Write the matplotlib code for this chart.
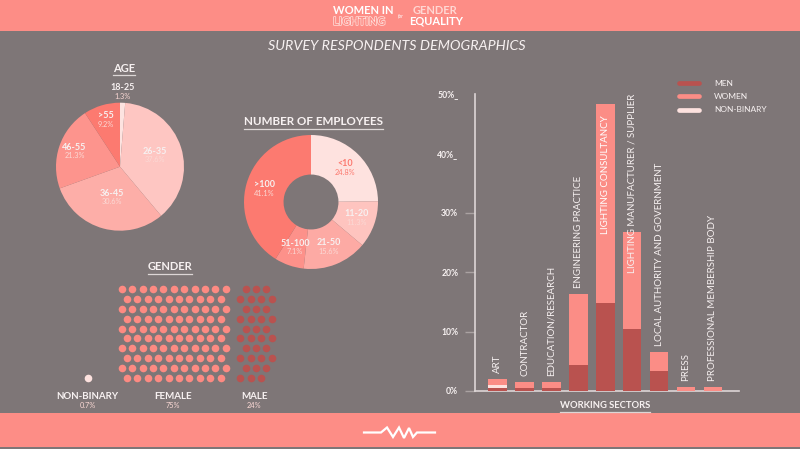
import matplotlib
matplotlib.use("Agg")
import matplotlib.pyplot as plt
from matplotlib.lines import Line2D
from matplotlib.patches import Rectangle
import matplotlib.patheffects as pe
import numpy as np

# ---- data ----
age_groups = ['18-25', '26-35', '36-45', '46-55', '>55']
age_share = [1.3, 37.6, 30.6, 21.3, 9.2]

emp_groups = ['<10', '11-20', '21-50', '51-100', '>100']
emp_share = [24.8, 11.3, 15.6, 7.1, 41.1]

gender_groups = ['NON-BINARY', 'FEMALE', 'MALE']
gender_share = [0.7, 75, 24]
gender_dots = [1, 105, 34]

sectors = ['ART', 'CONTRACTOR', 'EDUCATION/RESEARCH', 'ENGINEERING PRACTICE',
           'LIGHTING CONSULTANCY', 'LIGHTING MANUFACTURER / SUPPLIER',
           'LOCAL AUTHORITY AND GOVERNMENT', 'PRESS', 'PROFESSIONAL MEMBERSHIP BODY']
men = [0.5, 0.5, 0.5, 4.4, 14.8, 10.4, 3.3, 0.0, 0.0]
nonbinary = [0.5, 0.0, 0.0, 0.0, 0.0, 0.0, 0.0, 0.0, 0.0]
women = [1.1, 1.0, 1.0, 11.9, 33.5, 16.4, 3.3, 0.7, 0.7]
y_ticks = [0, 10, 20, 30, 40, 50]
y_ticklabels = ['0%', '10%', '20%', '30%', '40%_', '50%_']

# ---- style ----
BG = '#7e7677'
PINK = '#fd8d86'
MEN_C = '#b9524f'
WOMEN_C = '#fb8d86'
NB_C = '#fde2df'
TXT = '#f7f1f1'
PCT_TXT = '#fbd9d5'
age_colors = ['#fde3e0', '#fec6c2', '#fdaea8', '#fd948d', '#fc7a70']
emp_colors = ['#fee2df', '#fec4bf', '#fdaaa4', '#fd918a', '#fc7a70']
age_label_r = [1.17, 0.57, 0.5, 0.75, 0.76]
# label placement for sector names: above bar, inside top of bar, or hung from the axis top
label_mode = ['above', 'above', 'above', 'above', 'inside', 'top', 'above', 'above', 'above']

plt.rcParams['font.family'] = ['Lato', 'DejaVu Sans']

W, H = 800, 449


def box(left, top, width, height):
    return [left / W, 1 - (top + height) / H, width / W, height / H]


fig = plt.figure(figsize=(W / 100, H / 100), dpi=100, facecolor=BG)

# overlay axes in pixel coordinates for bands, titles and the dot grid
deco = fig.add_axes([0, 0, 1, 1])
deco.set_xlim(0, W)
deco.set_ylim(H, 0)
deco.axis('off')

deco.add_patch(Rectangle((0, 0), W, 31, color=PINK, lw=0))
deco.add_patch(Rectangle((0, 413), W, 34, color=PINK, lw=0))

# header logo
deco.text(333, 10, 'WOMEN IN', ha='left', va='center', fontsize=8, fontweight='bold', color='white')
deco.text(333, 21.5, 'LIGHTING', ha='left', va='center', fontsize=8, fontweight='bold', color=PINK,
          path_effects=[pe.withStroke(linewidth=1.0, foreground='#ffe3df')])
deco.text(401, 16, 'for', ha='center', va='center', fontsize=3.5, style='italic', color='white')
deco.text(413, 10, 'GENDER', ha='left', va='center', fontsize=8, fontweight='bold', color='#ffd7d3')
deco.text(409, 21.5, 'EQUALITY', ha='left', va='center', fontsize=8, fontweight='bold', color='white')

# footer zigzag
zx = [364, 381, 387, 393, 399, 404, 409, 413, 417, 435]
zy = [432.5, 432.5, 427.5, 437, 427.5, 438, 428, 437, 432.5, 432.5]
deco.plot(zx, zy, color='white', lw=1.6, solid_joinstyle='miter')

deco.text(397, 45.5, 'SURVEY RESPONDENTS DEMOGRAPHICS', ha='center', va='center',
          fontsize=10.3, style='italic', color=TXT)

titles = []
titles.append(deco.text(124, 68, 'AGE', ha='center', va='center', fontsize=8, fontweight='bold', color=TXT))
titles.append(deco.text(313, 121.5, 'NUMBER OF EMPLOYEES', ha='center', va='center', fontsize=8.4,
                        fontweight='bold', color=TXT))
titles.append(deco.text(170, 267, 'GENDER', ha='center', va='center', fontsize=8, fontweight='bold', color=TXT))
titles.append(deco.text(605, 405.5, 'WORKING SECTORS', ha='center', va='center', fontsize=6.8,
                        fontweight='bold', color=TXT))


def pie_labels(ax, wedges, groups, shares, radii, name_col, pct_col):
    for w, g, s, r in zip(wedges, groups, shares, radii):
        a = np.deg2rad((w.theta1 + w.theta2) / 2)
        x, y = r * np.cos(a), r * np.sin(a)
        ax.text(x, y + 0.065, g, ha='center', va='center', fontsize=6.5, fontweight='bold', color=name_col(g))
        ax.text(x, y - 0.065, f'{s}%', ha='center', va='center', fontsize=5.3, color=pct_col(g))


# ---- age pie ----
ax_age = fig.add_axes(box(56, 102.7, 128, 128))
ax_age.set_facecolor('none')
w_age, _ = ax_age.pie(age_share, colors=age_colors, startangle=90, counterclock=False,
                      wedgeprops=dict(linewidth=0))
ax_age.set_xlim(-1, 1)
ax_age.set_ylim(-1, 1)
pie_labels(ax_age, w_age, age_groups, age_share, age_label_r,
           lambda g: TXT, lambda g: PCT_TXT)

# ---- employees donut ----
ax_emp = fig.add_axes(box(244, 135, 134, 134))
ax_emp.set_facecolor('none')
w_emp, _ = ax_emp.pie(emp_share, colors=emp_colors, startangle=90, counterclock=False,
                      wedgeprops=dict(width=0.59, linewidth=0))
ax_emp.set_xlim(-1, 1)
ax_emp.set_ylim(-1, 1)
pie_labels(ax_emp, w_emp, emp_groups, emp_share, [0.72] * len(emp_groups),
           lambda g: '#fc7a70' if g == '<10' else TXT,
           lambda g: '#fc7a70' if g == '<10' else PCT_TXT)

# ---- gender dot grid ----
dx, dy = 10.4, 9.95
row0 = 288.7
n_rows = 10


def fill_block(n, x_full, cap_full, cap_off, first_full):
    xs, ys = [], []
    left = n
    for r in range(n_rows):
        full = (r % 2 == 0) == first_full
        cap = cap_full if full else cap_off
        x0 = x_full if full else x_full + dx / 2
        k = min(cap, left)
        xs += [x0 + i * dx for i in range(k)]
        ys += [row0 + r * dy] * k
        left -= k
    return xs, ys


def single_block(n, x):
    return [x] * n, [row0 + (n_rows - 1 - i) * dy for i in range(n)]


nb_x, nb_y = single_block(gender_dots[0], 88.3)
f_x, f_y = fill_block(gender_dots[1], 121.7, 11, 10, True)
m_x, m_y = fill_block(gender_dots[2], 240.3, 4, 3, False)
deco.scatter(nb_x, nb_y, s=30, color=NB_C, lw=0)
deco.scatter(f_x, f_y, s=30, color='#fd8a82', lw=0)
deco.scatter(m_x, m_y, s=30, color=MEN_C, lw=0)

for g, s, x in zip(gender_groups, gender_share, [87.7, 173.3, 254.3]):
    deco.text(x, 396.7, g, ha='center', va='center', fontsize=7, fontweight='bold', color=TXT)
    deco.text(x, 405, f'{s}%', ha='center', va='center', fontsize=5.3, color=PCT_TXT)

# ---- working sectors bar chart ----
ax = fig.add_axes(box(475, 94, 264, 297))
ax.set_facecolor('none')
xpos = np.arange(len(sectors))
bw = 0.69
men_a = np.array(men)
nb_a = np.array(nonbinary)
wo_a = np.array(women)
ax.bar(xpos, men_a, bw, color=MEN_C, lw=0, zorder=3)
ax.bar(xpos, nb_a, bw, bottom=men_a, color=NB_C, lw=0, zorder=3)
ax.bar(xpos, wo_a, bw, bottom=men_a + nb_a, color=WOMEN_C, lw=0, zorder=3)
ax.set_xlim(-0.84, 8.97)
ax.set_ylim(0, 50)

totals = men_a + nb_a + wo_a
for x, t, name, mode in zip(xpos, totals, sectors, label_mode):
    if mode == 'above':
        ax.text(x, t + 1.0, name, rotation=90, ha='center', va='bottom', fontsize=7, color=TXT, zorder=4)
    elif mode == 'inside':
        ax.text(x, t - 1.9, name, rotation=90, ha='center', va='top', fontsize=7, color='white', zorder=4)
    else:
        ax.text(x, 50, name, rotation=90, ha='center', va='top', fontsize=7, color=TXT, zorder=4)

for side in ['top', 'right']:
    ax.spines[side].set_visible(False)
for side in ['left', 'bottom']:
    ax.spines[side].set_color('#ddd6d6')
    ax.spines[side].set_linewidth(1.2)
ax.set_xticks([])
ax.set_yticks(y_ticks)
ax.set_yticklabels(y_ticklabels)
ax.tick_params(axis='y', length=7, width=1, color='#aaa2a2', labelcolor=TXT, labelsize=6.2, pad=5)
for lab in ax.get_yticklabels():
    lab.set_fontweight('bold')
for i, tk in enumerate(ax.yaxis.get_major_ticks()):
    if y_ticklabels[i].endswith('_'):
        tk.tick1line.set_visible(False)

handles = [Line2D([0], [0], color=c, lw=3.4, solid_capstyle='round') for c in [MEN_C, WOMEN_C, NB_C]]
ax.legend(handles, ['MEN', 'WOMEN', 'NON-BINARY'], loc='upper left', bbox_to_anchor=(679 / W, 1 - 79.5 / H),
          bbox_transform=fig.transFigure, frameon=False, fontsize=6, labelcolor=TXT,
          handlelength=2.4, handletextpad=1.8, labelspacing=0.78, borderpad=0, borderaxespad=0)

# underline the section titles
fig.canvas.draw()
rend = fig.canvas.get_renderer()
for t in titles:
    bb = t.get_window_extent(rend)
    yl = H - bb.y0 + 1.5
    deco.plot([bb.x0, bb.x1], [yl, yl], color='#ddd6d6', lw=0.9)

fig.savefig('out.png', dpi=100, facecolor=BG)
